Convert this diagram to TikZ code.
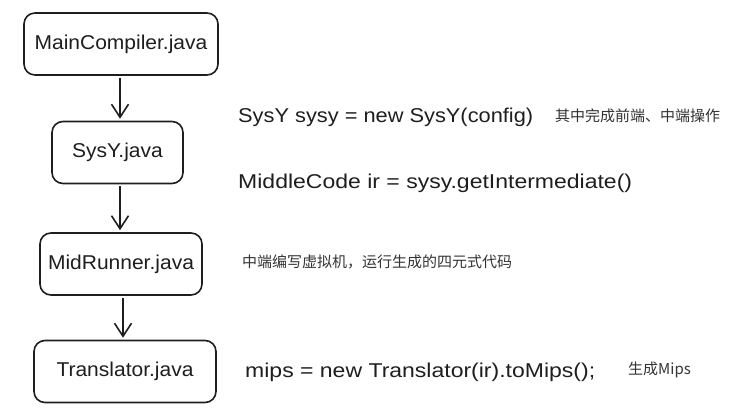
\documentclass[tikz,border=0pt]{standalone}
\usepackage{fontspec}
\setmainfont{Liberation Sans}
\newfontfamily\hand[FakeStretch=1.15]{Liberation Sans}
\newfontfamily\handnarrow[FakeStretch=1.09]{Liberation Sans}
\newfontfamily\boxfont[FakeStretch=1.05]{Liberation Sans}
\newfontfamily\cjk{Noto Sans CJK SC}
\usetikzlibrary{arrows.meta}
\definecolor{ink}{HTML}{1E1E1E}

\begin{document}
\begin{tikzpicture}[x=1pt, y=-1pt, font=\fontsize{20}{24}\selectfont, >={Straight Barb[length=13pt,width=17pt]},
  file/.style={draw=ink, text=ink, line width=1.6pt, rounded corners=11pt, minimum height=62pt, inner sep=0pt, font=\boxfont\fontsize{20}{24}\selectfont},
  flow/.style={->, draw=ink, line width=1.6pt, shorten <=2pt, shorten >=2pt},
  code/.style={anchor=west, inner sep=0pt, text=ink, font=\hand\fontsize{20}{24}\selectfont},
  note/.style={anchor=west, inner sep=0pt, text=black!80, font=\cjk\fontsize{15}{17}\selectfont}]
  \useasboundingbox (0,0) rectangle (749,413);
  % файлы компилятора сверху вниз
  \node[file, minimum width=194pt] (main)  at (121,44)    {MainCompiler.java};
  \node[file, minimum width=131pt] (sysy)  at (117.5,152.5) {SysY.java};
  \node[file, minimum width=162pt] (mid)   at (121,264)   {MidRunner.java};
  \node[file, minimum width=182pt] (trans) at (125,371.5) {Translator.java};
  % вызовы
  \draw[flow] ([xshift=-1pt]main.south) -- ([xshift=-1pt]main.south |- sysy.north);
  \draw[flow] ([xshift=2.5pt]sysy.south) -- ([xshift=2.5pt]sysy.south |- mid.north);
  \draw[flow] ([xshift=2pt]mid.south) -- ([xshift=2pt]mid.south |- trans.north);
  % код и пояснения
  \node[code, font=\handnarrow\fontsize{20}{24}\selectfont] (front) at (238,117) {SysY sysy = new SysY(config)};
  \node[note] (frontn) at (555,116) {其中完成前端、中端操作};
  \node[code] (ir)     at (238,183) {MiddleCode ir = sysy.getIntermediate()};
  \node[note] (vm)     at (242,262) {中端编写虚拟机，运行生成的四元式代码};
  \node[code] (mips)   at (245,372) {mips = new Translator(ir).toMips();};
  \node[note] (mipsn)  at (628,370) {生成Mips};
\end{tikzpicture}
\end{document}
